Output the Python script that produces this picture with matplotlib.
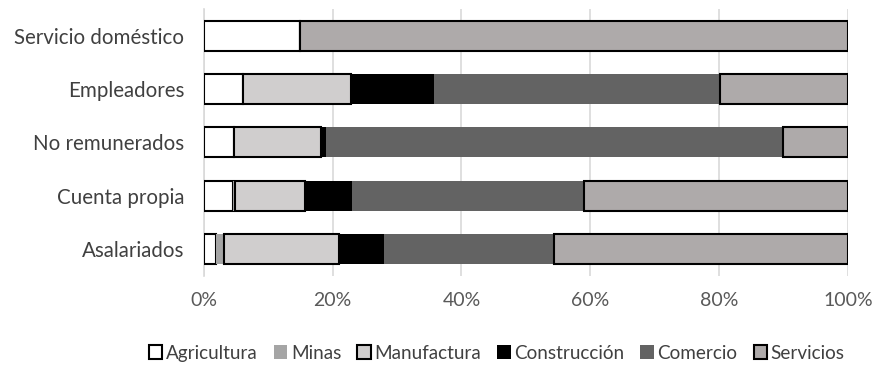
import matplotlib.pyplot as plt
import numpy as np
from matplotlib.ticker import PercentFormatter

plt.rcParams['font.family'] = ['Lato', 'DejaVu Sans']

categories = ["Asalariados", "Cuenta propia", "No remunerados", "Empleadores", "Servicio doméstico"]
series = ["Agricultura", "Minas", "Manufactura", "Construcción", "Comercio", "Servicios"]

agricultura = [1.9, 4.6, 4.7, 6.1, 14.9]
minas = [1.2, 0.3, 0.0, 0.0, 0.0]
manufactura = [17.9, 10.8, 13.5, 16.7, 0.0]
construccion = [6.9, 7.3, 0.7, 13.0, 0.0]
comercio = [26.4, 36.0, 71.1, 44.3, 0.0]
servicios = [45.7, 41.0, 10.0, 19.9, 85.1]

values = [agricultura, minas, manufactura, construccion, comercio, servicios]
colors = ["#ffffff", "#a5a5a5", "#d0cece", "#000000", "#636363", "#aeaaaa"]
edged = [True, False, True, False, False, True]

fig, ax = plt.subplots(figsize=(8.75, 3.65), dpi=100)
fig.subplots_adjust(left=0.233, right=0.969, top=0.975, bottom=0.245)

y = np.arange(len(categories))
left = np.zeros(len(categories))
for vals, col, ed, name in zip(values, colors, edged, series):
    vals = np.array(vals)
    ax.barh(y, vals, left=left, height=0.56, color=col,
            edgecolor="black" if ed else col, linewidth=1.5 if ed else 0,
            label=name, zorder=3)
    left += vals

ax.set_xlim(0, 100)
ax.set_ylim(-0.5, 4.5)
ax.set_yticks(y)
ax.set_yticklabels(categories, fontsize=14.8, color="#404040")
ax.set_xticks(np.arange(0, 101, 20))
ax.xaxis.set_major_formatter(PercentFormatter(decimals=0))
ax.tick_params(axis="x", labelsize=14, colors="#595959", length=0, pad=12)
ax.tick_params(axis="y", length=0, pad=14)
ax.grid(axis="x", color="#d9d9d9", linewidth=1.2, zorder=0)
for s in ["top", "right", "bottom"]:
    ax.spines[s].set_visible(False)
ax.spines["left"].set_color("#d9d9d9")
ax.spines["left"].set_linewidth(1.2)

ax.legend(loc="upper center", bbox_to_anchor=(0.455, -0.195), ncol=6, frameon=False,
          fontsize=13.6, handlelength=0.7, handleheight=0.7, handletextpad=0.2,
          columnspacing=0.85, labelcolor="#404040")

plt.savefig("out.png")
